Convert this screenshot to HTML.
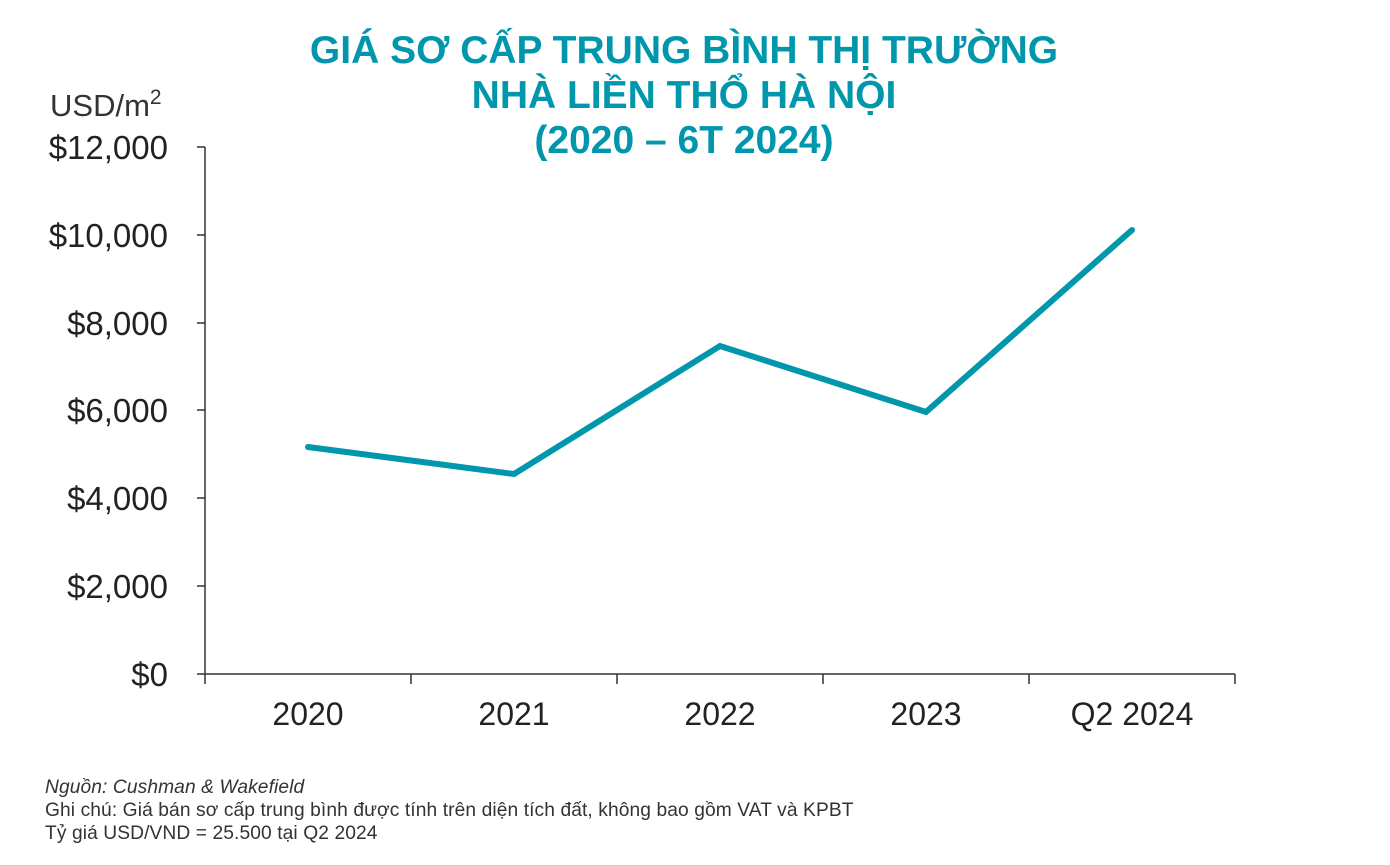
<!DOCTYPE html>
<html><head><meta charset="utf-8"><style>
html,body{margin:0;padding:0;background:#fff;}
body{width:1390px;height:865px;overflow:hidden;position:relative;font-family:"Liberation Sans",sans-serif;}
.t{position:absolute;left:0;width:1368px;text-align:center;color:#0097AC;font-weight:bold;font-size:39px;line-height:45px;top:28px;}
.f{position:absolute;left:45px;top:776px;font-size:19.2px;line-height:23px;color:#333;letter-spacing:0.1px;}
</style></head><body>
<svg width="1390" height="865" style="position:absolute;left:0;top:0">
<g stroke="#333" stroke-width="1.5" fill="none">
<line x1="205" y1="147" x2="205" y2="674"/>
<line x1="205" y1="674" x2="1235" y2="674"/>
<line x1="197" y1="147" x2="205" y2="147"/>
<line x1="197" y1="235" x2="205" y2="235"/>
<line x1="197" y1="323" x2="205" y2="323"/>
<line x1="197" y1="410" x2="205" y2="410"/>
<line x1="197" y1="498" x2="205" y2="498"/>
<line x1="197" y1="586" x2="205" y2="586"/>
<line x1="197" y1="674" x2="205" y2="674"/>
<line x1="205" y1="674" x2="205" y2="684"/>
<line x1="411" y1="674" x2="411" y2="684"/>
<line x1="617" y1="674" x2="617" y2="684"/>
<line x1="823" y1="674" x2="823" y2="684"/>
<line x1="1029" y1="674" x2="1029" y2="684"/>
<line x1="1235" y1="674" x2="1235" y2="684"/>
</g>
<g font-family="Liberation Sans, sans-serif" font-size="33" fill="#222" text-anchor="end">
<text x="168" y="159">$12,000</text>
<text x="168" y="247">$10,000</text>
<text x="168" y="335">$8,000</text>
<text x="168" y="422">$6,000</text>
<text x="168" y="510">$4,000</text>
<text x="168" y="598">$2,000</text>
<text x="168" y="686">$0</text>
</g>
<g font-family="Liberation Sans, sans-serif" font-size="32" fill="#222" text-anchor="middle">
<text x="308" y="725">2020</text>
<text x="514" y="725">2021</text>
<text x="720" y="725">2022</text>
<text x="926" y="725">2023</text>
<text x="1132" y="725">Q2 2024</text>
</g>
<text x="50" y="116" font-family="Liberation Sans, sans-serif" font-size="31" fill="#333">USD/m<tspan dy="-12" font-size="21">2</tspan></text>
<polyline points="308,447 514,474 720,346 926,412 1132,230" fill="none" stroke="#0097AC" stroke-width="6" stroke-linejoin="miter" stroke-linecap="round"/>
</svg>
<div class="t">GIÁ SƠ CẤP TRUNG BÌNH THỊ TRƯỜNG<br>NHÀ LIỀN THỔ HÀ NỘI<br>(2020 – 6T 2024)</div>
<div class="f"><i>Nguồn: Cushman &amp; Wakefield</i><br>Ghi chú: Giá bán sơ cấp trung bình được tính trên diện tích đất, không bao gồm VAT và KPBT<br>Tỷ giá USD/VND = 25.500 tại Q2 2024</div>
</body></html>
